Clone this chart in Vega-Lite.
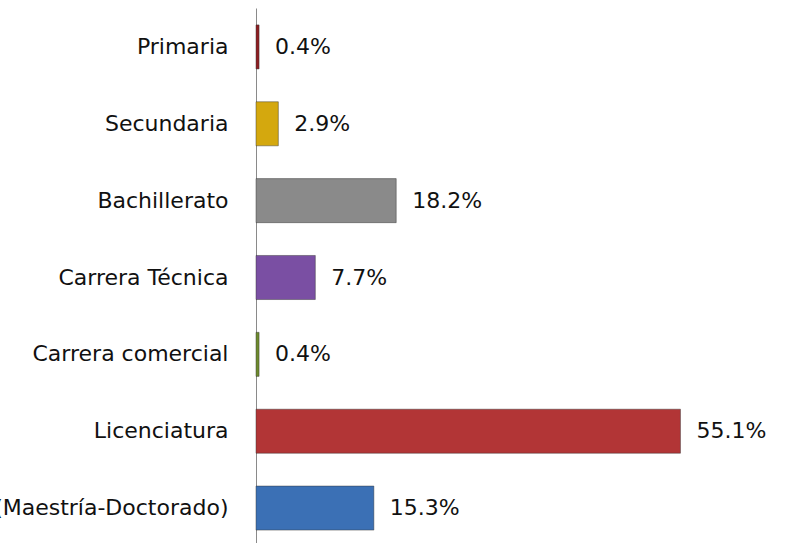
{
  "$schema": "https://vega.github.io/schema/vega-lite/v6.json",
  "autosize": "none",
  "width": 530,
  "height": 539,
  "padding": {"left": 256, "top": 8, "right": 0, "bottom": 0},
  "background": "white",
  "config": {"view": {"stroke": null}, "font": "DejaVu Sans"},
  "data": {"values": [
    {"nivel": "Primaria", "pct": 0.4, "etiqueta": "0.4%", "color": "#8E1E22"},
    {"nivel": "Secundaria", "pct": 2.9, "etiqueta": "2.9%", "color": "#D4A80E"},
    {"nivel": "Bachillerato", "pct": 18.2, "etiqueta": "18.2%", "color": "#8A8A8A"},
    {"nivel": "Carrera Técnica", "pct": 7.7, "etiqueta": "7.7%", "color": "#7A4FA3"},
    {"nivel": "Carrera comercial", "pct": 0.4, "etiqueta": "0.4%", "color": "#6E8B2E"},
    {"nivel": "Licenciatura", "pct": 55.1, "etiqueta": "55.1%", "color": "#B23536"},
    {"nivel": "Posgrado (Maestría-Doctorado)", "pct": 15.3, "etiqueta": "15.3%", "color": "#3B70B5"}
  ]},
  "encoding": {
    "y": {"field": "nivel", "type": "nominal", "sort": null,
      "scale": {"paddingInner": 0.427, "paddingOuter": 0.22},
      "axis": {"title": null, "ticks": false, "labelFontSize": 22, "labelColor": "#111", "labelPadding": 28, "domainColor": "#8a8a8a", "domainWidth": 1, "labelLimit": 0}},
    "x": {"field": "pct", "type": "quantitative",
      "scale": {"domain": [0, 68.8]},
      "axis": null}
  },
  "layer": [
    {"mark": {"type": "bar", "strokeWidth": 1},
      "encoding": {
        "color": {"field": "color", "type": "nominal", "scale": null},
        "stroke": {"value": "#333"},
        "strokeOpacity": {"value": 0.45}
      }},
    {"mark": {"type": "text", "align": "left", "dx": 16, "fontSize": 22, "color": "#111"},
      "encoding": {"text": {"field": "etiqueta", "type": "nominal"}}}
  ]
}
